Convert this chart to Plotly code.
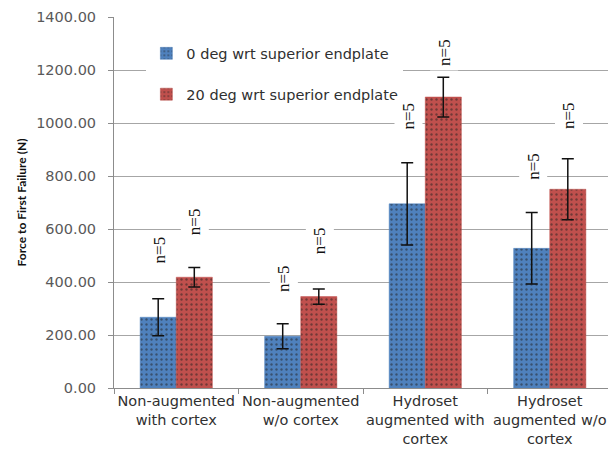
import plotly.graph_objects as go

categories = ["Non-augmented<br>with cortex", "Non-augmented<br>w/o cortex",
              "Hydroset<br>augmented with<br>cortex", "Hydroset<br>augmented w/o<br>cortex"]
series_names = ["0 deg wrt superior endplate", "20 deg wrt superior endplate"]
vals_0 = [267, 195, 695, 527]
err_0 = [70, 47, 155, 135]
vals_20 = [418, 345, 1098, 750]
err_20 = [37, 29, 75, 115]
n_labels_0 = ["n=5", "n=5", "n=5", "n=5"]
n_labels_20 = ["n=5", "n=5", "n=5", "n=5"]
yticks = [0, 200, 400, 600, 800, 1000, 1200, 1400]

# style: vertical pixel gap between error bar top and label
gap_0 = [34, 31, 32, 32]
gap_20 = [31, 34, 10, 29]

BLUE = "#4F81BD"
RED = "#C0504D"
FONT = "DejaVu Sans"

fig = go.Figure()
for name, v, e, col, grp in [(series_names[0], vals_0, err_0, BLUE, "a"),
                             (series_names[1], vals_20, err_20, RED, "b")]:
    fig.add_trace(go.Bar(
        x=categories, y=v, name=name, legendgroup=grp,
        marker=dict(color=col, line=dict(width=0.5, color=col),
                    pattern=dict(shape=".", fgcolor="#222222", size=5, solidity=0.18)),
        error_y=dict(type="data", array=e, visible=True, color="#111111",
                     thickness=1.5, width=6),
    ))

annotations = []
for labels, vals, errs, gaps, shift in [(n_labels_0, vals_0, err_0, gap_0, -17),
                                         (n_labels_20, vals_20, err_20, gap_20, 19)]:
    for c, lab, v, e, g in zip(categories, labels, vals, errs, gaps):
        annotations.append(dict(
            x=c, y=v + e, xref="x", yref="y", text=lab, showarrow=False,
            textangle=-90, xanchor="center", yanchor="bottom",
            xshift=shift, yshift=g - 4,
            font=dict(family="Liberation Serif", size=17, color="#111111"),
            bgcolor="white", borderpad=4,
        ))

# the page body adds an 8px offset; figure sized so the chart fills 616x450
fig.update_layout(
    width=608, height=442,
    margin=dict(l=106, r=4, t=9, b=62),
    paper_bgcolor="white", plot_bgcolor="white",
    barmode="group", bargap=0.42, bargroupgap=0,
    font=dict(family=FONT, color="#404040"),
    showlegend=True,
    legend=dict(x=0.065, y=0.945, xanchor="left", yanchor="top",
                bgcolor="white", font=dict(family=FONT, size=14.5, color="#303030"),
                traceorder="grouped", tracegroupgap=19,
                itemwidth=30),
    annotations=annotations,
)
fig.update_xaxes(
    automargin=False, tickangle=0,
    showline=True, linecolor="#8c8c8c", linewidth=1,
    ticks="outside", ticklen=5, tickcolor="#8c8c8c", tickson="boundaries",
    tickfont=dict(family=FONT, size=14.5, color="#303030"),
)
fig.update_yaxes(
    automargin=False,
    range=[0, 1400], tickvals=yticks, tickformat=".2f",
    showline=True, linecolor="#8c8c8c", linewidth=1,
    ticks="outside", ticklen=5, tickcolor="#8c8c8c", ticklabelstandoff=9,
    showgrid=True, gridcolor="#a6a6a6", gridwidth=1,
    tickfont=dict(family=FONT, size=14.5, color="#595959"),
    title=dict(text="<b>Force to First Failure (N)</b>", standoff=6,
               font=dict(family="Lato", size=12, color="#111111")),
    zeroline=False,
)

fig.write_html("out.html")
